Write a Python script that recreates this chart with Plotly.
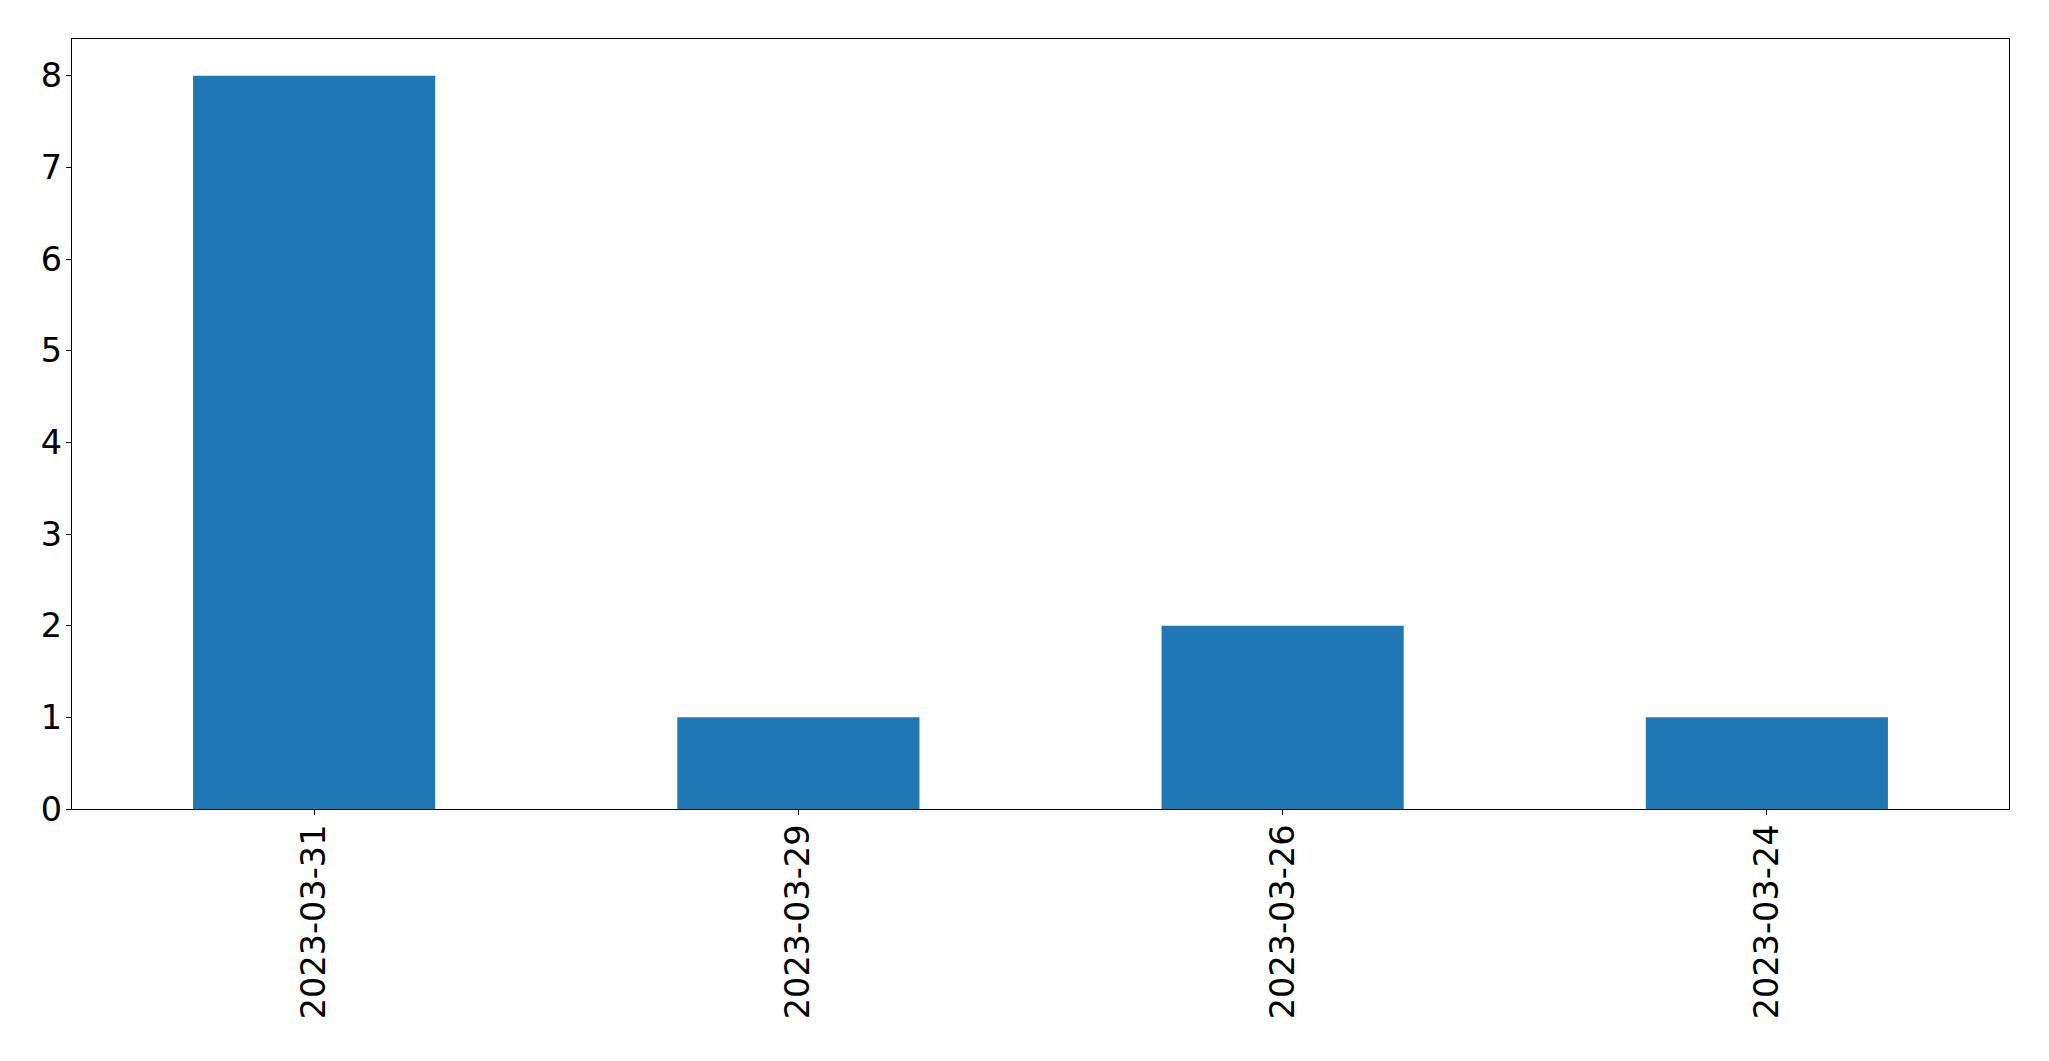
import plotly.graph_objects as go

dates = ["2023-03-31", "2023-03-29", "2023-03-26", "2023-03-24"]
counts = [8, 1, 2, 1]
y_ticks = [0, 1, 2, 3, 4, 5, 6, 7, 8]

fig = go.Figure(go.Bar(x=dates, y=counts, marker_color="#1f77b4",
                       marker_line_width=0, width=0.5))

axis_common = dict(showline=True, linecolor="black", linewidth=1.3, mirror=True,
                   ticks="outside", ticklen=5, tickwidth=1.3, tickcolor="black",
                   showgrid=False, zeroline=False, automargin=False,
                   tickfont=dict(family="DejaVu Sans", size=33.5, color="black"))

# page body has an 8px margin; figure placed at (8, 8)
fig.update_layout(
    width=2033, height=1045,
    margin=dict(l=64, r=32, t=31, b=244),
    paper_bgcolor="white", plot_bgcolor="white",
    showlegend=False,
    bargap=0.5,
    xaxis=dict(type="category", range=[-0.5, 3.5], tickangle=-90,
               ticklabelstandoff=-4, **axis_common),
    yaxis=dict(range=[0, 8.4], tickvals=y_ticks, ticklabelstandoff=-3, **axis_common),
)

fig.write_html("out.html")
